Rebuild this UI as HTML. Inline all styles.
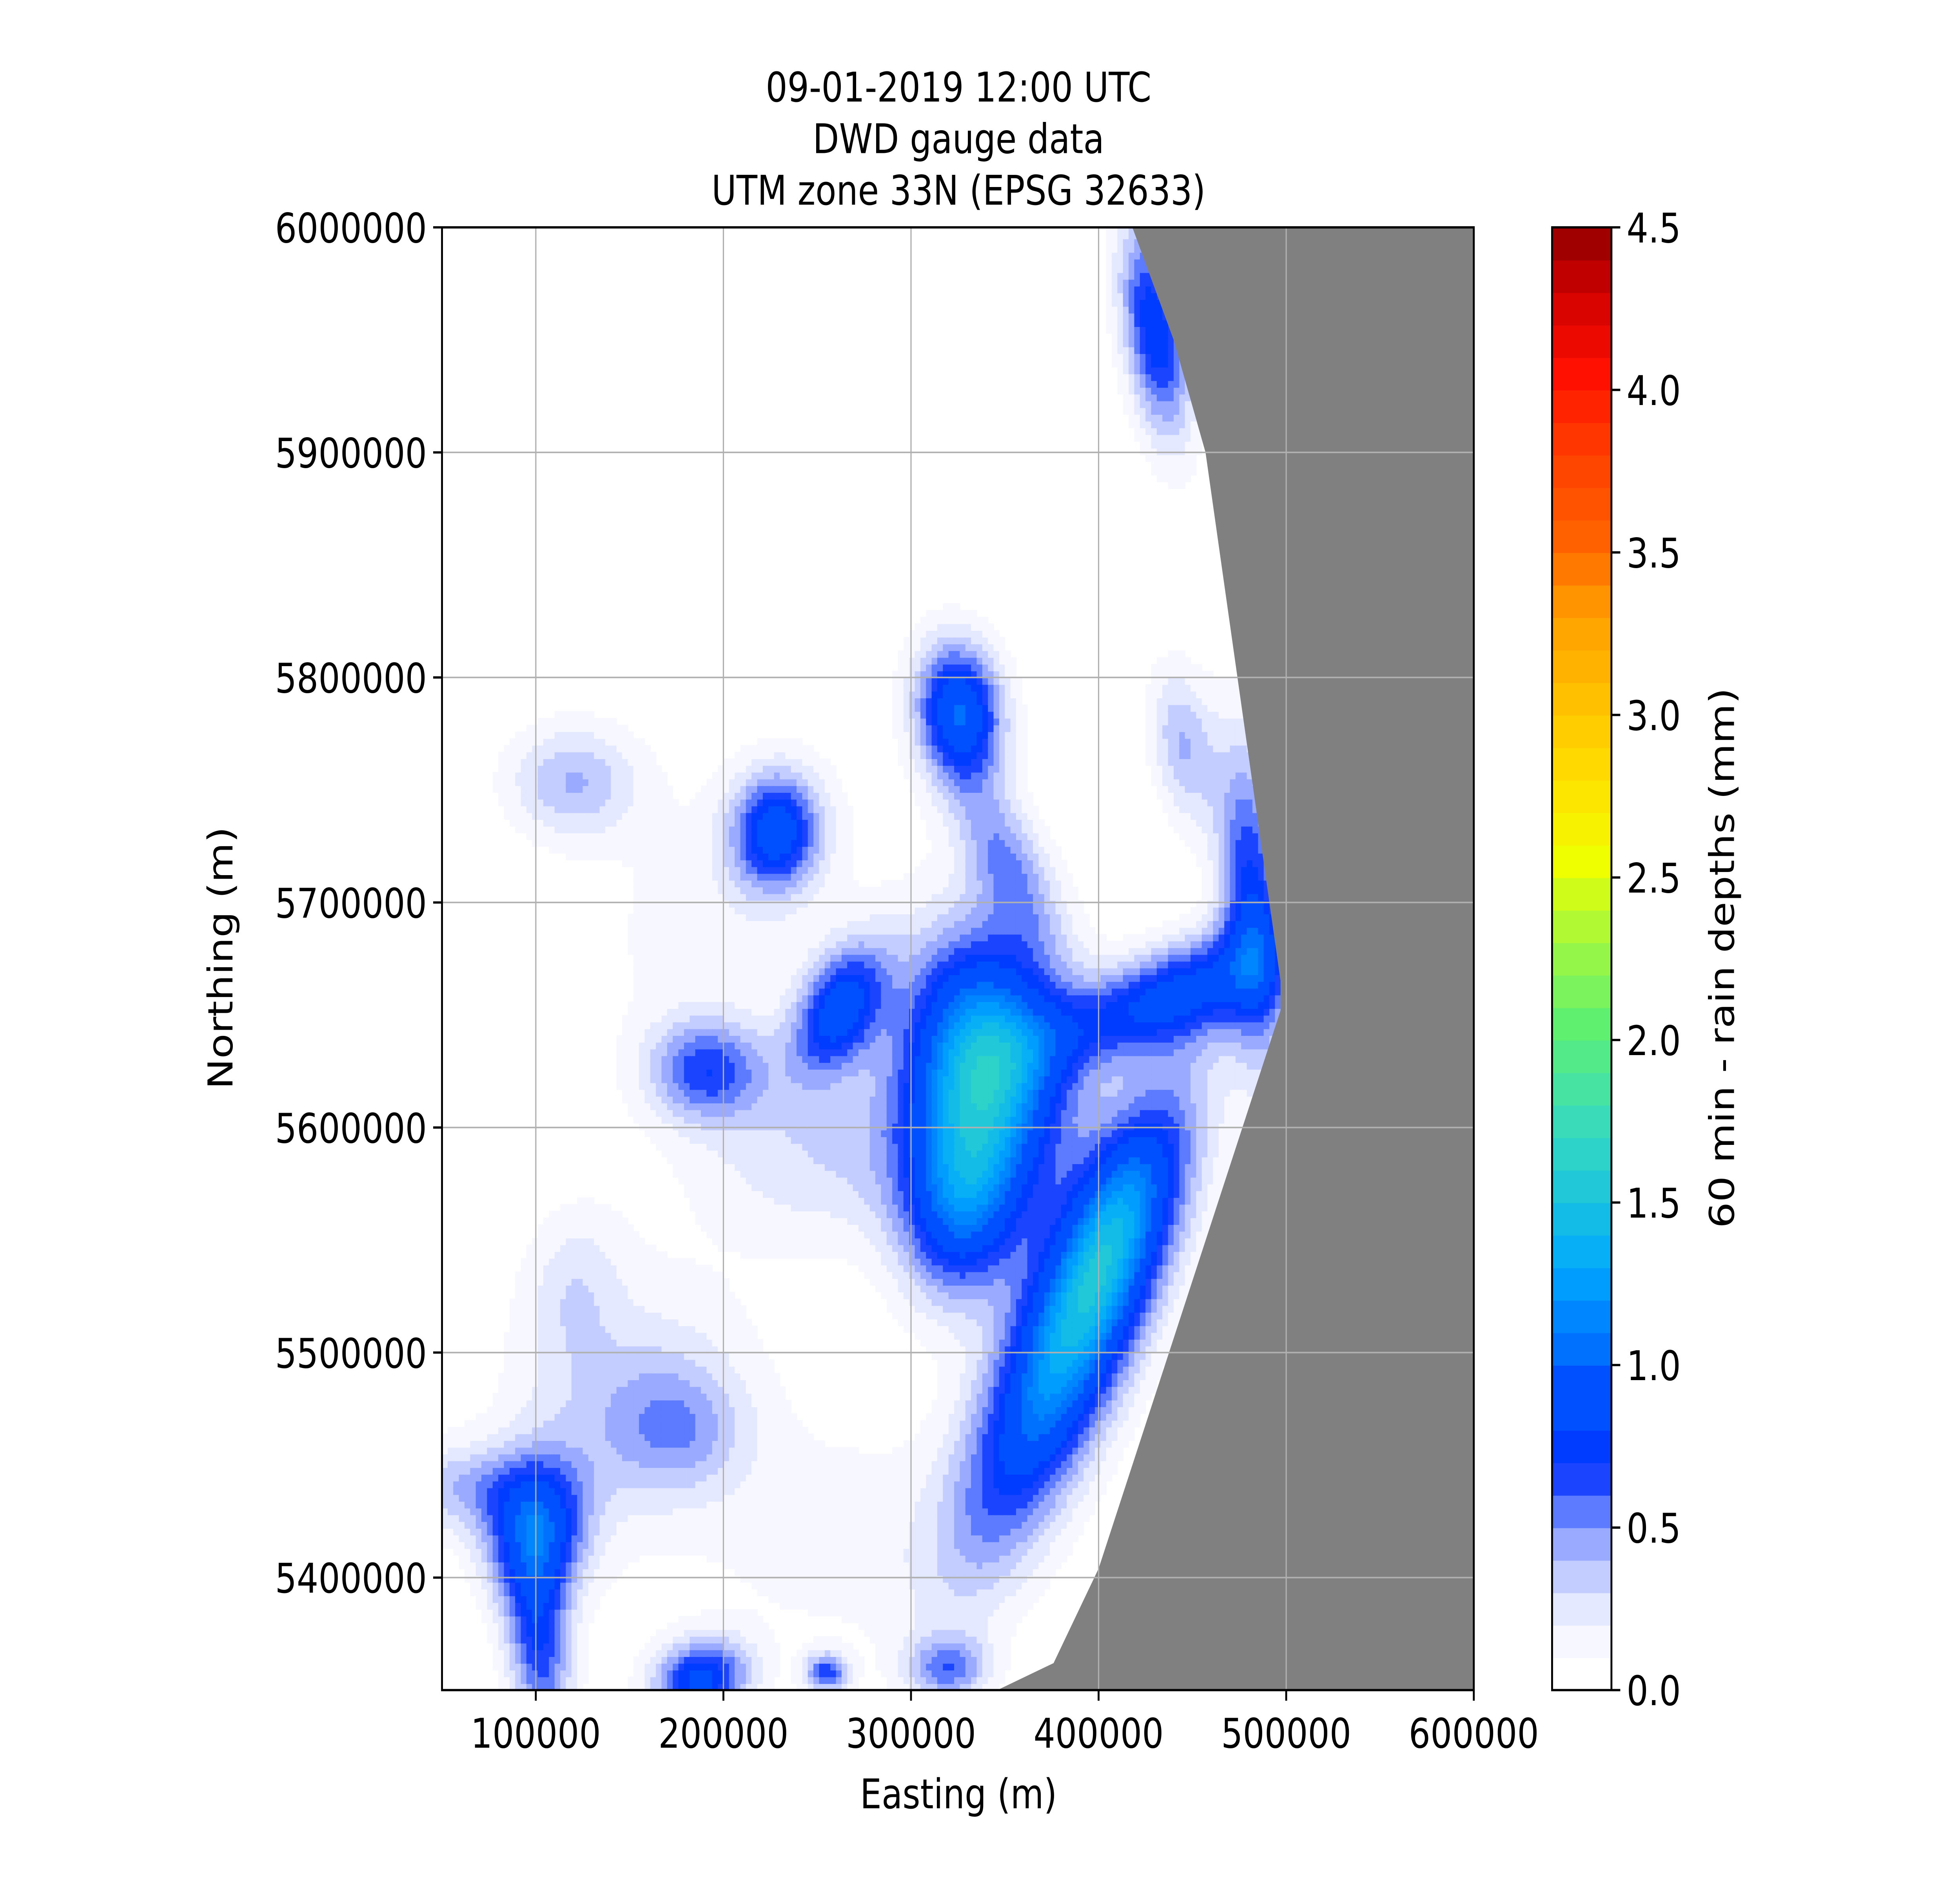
<!DOCTYPE html>
<html><head><meta charset="utf-8"><style>
html,body{margin:0;padding:0;background:#fff;overflow:hidden;width:100vw;height:100vh;}
svg{display:block;position:absolute;left:0;top:0;width:100vw;height:100vh;}
text{font-family:"DejaVu Sans","Liberation Sans",sans-serif;fill:#000;}
</style></head><body>
<svg id="chart" xmlns="http://www.w3.org/2000/svg" viewBox="0 0 1552 1241.6" preserveAspectRatio="none">
<rect x="0" y="0" width="1552" height="1241.6" fill="#fff"/>
<g font-size="27" text-anchor="middle">
<text x="759" y="67" font-size="27">09-01-2019 12:00 UTC</text>
<text x="759" y="101" font-size="27">DWD gauge data</text>
<text x="759" y="135" font-size="27">UTM zone 33N (EPSG 32633)</text>
</g>
<defs><clipPath id="axclip"><rect x="350" y="150" width="817" height="965"/></clipPath></defs>
<g id="field" clip-path="url(#axclip)"></g>
<polygon id="nodata" fill="#808080"/>
<g id="grid"></g>
<rect x="350" y="150" width="817" height="965" fill="none" stroke="#000" stroke-width="1.5"/>
<g id="xticks"></g>
<g id="yticks"></g>
<text x="759" y="1193" font-size="27" text-anchor="middle">Easting (m)</text>
<text x="0" y="0" font-size="27" text-anchor="middle" transform="translate(184,632) rotate(-90)">Northing (m)</text>
<g id="cbar"></g>
<text x="0" y="0" font-size="27" text-anchor="middle" transform="translate(1373,632) rotate(-90)">60 min - rain depths (mm)</text>
</svg>
<script>
// ---- data ----
const xTicks = [100000, 200000, 300000, 400000, 500000, 600000];
const yTicks = [5400000, 5500000, 5600000, 5700000, 5800000, 5900000, 6000000];
const cbarTicks = [0.0, 0.5, 1.0, 1.5, 2.0, 2.5, 3.0, 3.5, 4.0, 4.5];
// rain cells: centre easting, northing, peak depth (mm), sigma major, sigma minor, angle (deg)
const cellX = [340000, 328000, 385000, 410000, 326000, 228000, 262000, 191000, 120000, 482000, 455000, 430000, 100000, 102000, 188000, 178000, 120000, 255000, 420000, 350000, 300000, 230000, 160000, 60000, 320000, 445000, 200000, 130000, 260000];
const cellY = [5632000, 5565000, 5505000, 5560000, 5785000, 5732000, 5653000, 5626000, 5754000, 5700000, 5660000, 5955000, 5420000, 5370000, 5355000, 5465000, 5530000, 5358000, 5655000, 5720000, 5590000, 5590000, 5480000, 5440000, 5360000, 5770000, 5700000, 5480000, 5420000];
const cellV = [1.4, 0.85, 1.2, 0.55, 1.0, 0.85, 0.85, 0.6, 0.4, 0.75, 0.45, 0.8, 0.85, 0.65, 0.85, 0.3, 0.2, 0.65, 0.5, 0.45, 0.22, 0.18, 0.18, 0.35, 0.5, 0.4, 0.15, 0.15, 0.15];
const cellSa = [38000, 30000, 70000, 45000, 22000, 18000, 22000, 22000, 25000, 50000, 35000, 35000, 22000, 30000, 18000, 25000, 25000, 8000, 45000, 30000, 50000, 40000, 45000, 30000, 15000, 25000, 60000, 50000, 60000];
const cellSb = [30000, 22000, 22000, 18000, 16000, 16000, 14000, 16000, 18000, 12000, 16000, 12000, 18000, 12000, 12000, 20000, 18000, 6000, 14000, 14000, 30000, 30000, 30000, 14000, 10000, 12000, 40000, 40000, 40000];
const cellA = [95, 80, 62, 62, 100, 80, 55, 0, 0, 95, 20, 100, 80, 95, 10, 0, 80, 0, 20, 120, 0, 0, 30, 0, 0, 100, 30, 80, 0];
// no-data region boundary (easting, northing)
const maskX = [418000, 440000, 457000, 497000, 497000, 400000, 376000, 346000, 600000, 600000];
const maskY = [6000000, 5950000, 5900000, 5665000, 5652000, 5404000, 5362000, 5350000, 5350000, 6000000];
// colour levels
const levelStops = [0, 0.1, 0.2, 0.3, 0.4, 0.5, 0.6, 0.7, 0.8, 1.0, 1.25, 1.5, 1.75, 2.0, 2.25, 2.5, 2.75, 3.0, 3.25, 3.5, 3.75, 4.0, 4.25, 4.5];
const levelCols = ['#ffffff','#f7f8ff','#e4e9ff','#c3cdff','#99aaff','#5c7bff','#1a44ff','#003cff','#0050ff','#0070ff','#00a8ff','#20c8d8','#40e0b0','#60f070','#a0f840','#f0ff00','#ffe000','#ffc000','#ffa000','#ff6000','#ff4000','#ff1000','#d00000','#800000'];

// ---- axes ----
const X0=50000, X1=600000, Y0=5350000, Y1=6000000;
const PL=350, PR=1167, PT=150, PB=1115;
const sx = v => PL + (v-X0)/(X1-X0)*(PR-PL);
const sy = v => PB - (v-Y0)/(Y1-Y0)*(PB-PT);
const NS='http://www.w3.org/2000/svg';
function mk(tag, attrs, parent){const e=document.createElementNS(NS,tag);for(const k in attrs)e.setAttribute(k,attrs[k]);parent.appendChild(e);return e;}
function hex(c){return [parseInt(c.slice(1,3),16),parseInt(c.slice(3,5),16),parseInt(c.slice(5,7),16)];}
function colorAt(v){
  if(v>=levelStops[levelStops.length-1]) return levelCols[levelCols.length-1];
  for(let i=0;i<levelStops.length-1;i++){
    if(v<levelStops[i+1]){
      if(i<9) return levelCols[i];
      const t=(v-levelStops[i])/(levelStops[i+1]-levelStops[i]);
      const a=hex(levelCols[i]), b=hex(levelCols[i+1]);
      return 'rgb('+a.map((x,j)=>Math.round(x+(b[j]-x)*t)).join(',')+')';
    }
  }
  return levelCols[0];
}
function field(x,y){
  let s=0;
  for(let i=0;i<cellX.length;i++){
    const a=cellA[i]*Math.PI/180, dx=x-cellX[i], dy=y-cellY[i];
    const u=dx*Math.cos(a)+dy*Math.sin(a), w=-dx*Math.sin(a)+dy*Math.cos(a);
    s+=cellV[i]*Math.exp(-0.5*(u*u/(cellSa[i]*cellSa[i])+w*w/(cellSb[i]*cellSb[i])));
  }
  return s;
}
const fg=document.getElementById('field');
const step=3000;
for(let x=X0;x<X1;x+=step){
  for(let y=Y0;y<Y1;y+=step){
    const v=field(x+step/2,y+step/2);
    const lvl=Math.floor(v*10)/10;
    if(lvl<0.1) continue;
    const r=mk('rect',{x:sx(x),y:sy(y+step),width:sx(x+step)-sx(x)+0.4,height:sy(y)-sy(y+step)+0.4,fill:colorAt(lvl+0.001)},fg);
    
    
  }
}
document.getElementById('nodata').setAttribute('points', maskX.map((x,i)=>sx(x)+','+sy(maskY[i])).join(' '));
const gg=document.getElementById('grid'), xg=document.getElementById('xticks'), yg=document.getElementById('yticks');
xTicks.forEach(t=>{
  const X=sx(t);
  if(t<X1) mk('line',{x1:X,y1:PT,x2:X,y2:PB,stroke:'#b0b0b0','stroke-width':1},gg);
  mk('line',{x1:X,y1:PB,x2:X,y2:PB+7,stroke:'#000','stroke-width':1.5},xg);
  const tx=mk('text',{x:X,y:PB+38,'font-size':27,'text-anchor':'middle'},xg);
  tx.textContent=String(t);
  
  
});
yTicks.forEach(t=>{
  const Y=sy(t);
  if(t<Y1) mk('line',{x1:PL,y1:Y,x2:PR,y2:Y,stroke:'#b0b0b0','stroke-width':1},gg);
  mk('line',{x1:PL-7,y1:Y,x2:PL,y2:Y,stroke:'#000','stroke-width':1.5},yg);
  const tx=mk('text',{x:PL-12,y:Y+10,'font-size':27,'text-anchor':'end'},yg);
  tx.textContent=String(t);
  
  
});
const cb=document.getElementById('cbar');
const CL=1229, CR=1276, CT=150, CB=1115, VMAX=4.5;
const cy=v=>CB-v/VMAX*(CB-CT);
for(let v=0;v<VMAX-1e-9;v+=0.1){
  const r=mk('rect',{x:CL,y:cy(v+0.1),width:CR-CL,height:cy(v)-cy(v+0.1)+0.4,fill:colorAt(v+0.001)},cb);
  
  
}
mk('rect',{x:CL,y:CT,width:CR-CL,height:CB-CT,fill:'none',stroke:'#000','stroke-width':1.5},cb);
cbarTicks.forEach(t=>{
  const Y=cy(t);
  mk('line',{x1:CR,y1:Y,x2:CR+7,y2:Y,stroke:'#000','stroke-width':1.5},cb);
  const tx=mk('text',{x:CR+12,y:Y+10,'font-size':27},cb);
  tx.textContent=t.toFixed(1);
  
  
});
</script>
</body></html>
